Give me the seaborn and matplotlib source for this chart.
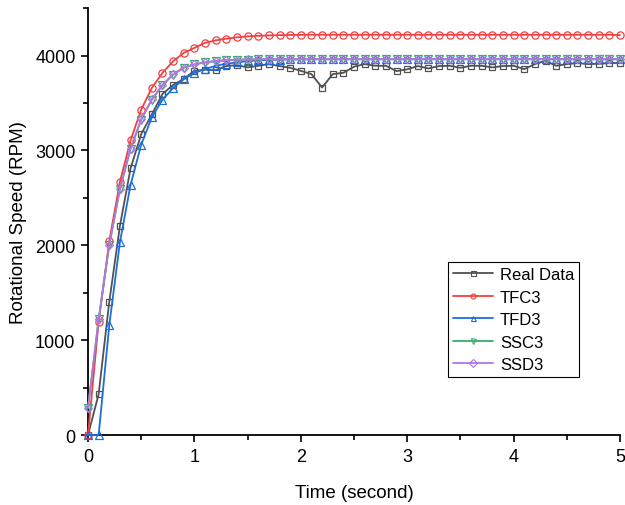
import numpy as np
import matplotlib
matplotlib.use("Agg")
import matplotlib.pyplot as plt
import seaborn as sns
from matplotlib.ticker import MultipleLocator

# time grid (second), one sample every 0.1 s
time_s = np.round(np.arange(51) * 0.1, 1)

real_data = [0, 430, 1405, 2204, 2810, 3172, 3380, 3595, 3690, 3753, 3840,
             3850, 3846, 3889, 3899, 3875, 3892, 3910, 3889, 3871, 3839,
             3804, 3663, 3804, 3818, 3882, 3910, 3892, 3892, 3836, 3855,
             3889, 3864, 3889, 3892, 3871, 3892, 3892, 3875, 3889, 3892,
             3857, 3910, 3945, 3892, 3910, 3921, 3910, 3913, 3921, 3921]

tfc3 = [0, 1194, 2046, 2669, 3106, 3430, 3658, 3817, 3940, 4028, 4081,
        4134, 4160, 4178, 4192, 4202, 4208, 4212, 4215, 4217, 4218,
        4219, 4219, 4219, 4219, 4219, 4219, 4219, 4219, 4219, 4219,
        4219, 4219, 4219, 4219, 4219, 4219, 4219, 4219, 4219, 4219,
        4219, 4219, 4219, 4219, 4219, 4219, 4219, 4219, 4219, 4215]

tfd3 = [0, 0, 1158, 2032, 2637, 3060, 3349, 3535, 3658, 3751, 3818,
        3857, 3892, 3913, 3928, 3940, 3948, 3953, 3957, 3959, 3960,
        3961, 3961, 3961, 3961, 3961, 3961, 3961, 3961, 3961, 3961,
        3961, 3961, 3961, 3961, 3961, 3961, 3961, 3961, 3961, 3961,
        3961, 3961, 3961, 3961, 3961, 3961, 3961, 3961, 3961, 3961]

ssc3 = [285, 1218, 2003, 2591, 3017, 3324, 3535, 3687, 3800, 3871, 3906,
        3927, 3941, 3950, 3955, 3958, 3960, 3961, 3962, 3962, 3962,
        3962, 3962, 3962, 3962, 3962, 3962, 3962, 3962, 3962, 3962,
        3962, 3962, 3962, 3962, 3962, 3962, 3962, 3962, 3962, 3962,
        3962, 3962, 3962, 3962, 3962, 3962, 3962, 3962, 3962, 3962]

ssd3 = [285, 1220, 2006, 2594, 3020, 3327, 3538, 3690, 3803, 3873, 3908,
        3929, 3943, 3951, 3956, 3959, 3961, 3962, 3963, 3963, 3963,
        3963, 3963, 3963, 3963, 3963, 3963, 3963, 3963, 3963, 3963,
        3963, 3963, 3963, 3963, 3963, 3963, 3963, 3963, 3963, 3963,
        3963, 3963, 3963, 3963, 3963, 3963, 3963, 3963, 3963, 3963]

labels = ["Real Data", "TFC3", "TFD3", "SSC3", "SSD3"]
colors = ["#515151", "#F14040", "#1A6FDF", "#37AD6B", "#B177DE"]
markers = ["s", "o", "^", "v", "D"]
marker_sizes = [4.6, 5.2, 5.4, 5.4, 4.4]

sns.set_style("ticks")
plt.rcParams["font.family"] = ["Liberation Sans", "DejaVu Sans"]

fig = plt.figure(figsize=(6.25, 5.06), dpi=100)
ax = fig.add_axes([0.1408, 0.1383, 0.8512, 0.8437])

series = [real_data, tfc3, tfd3, ssc3, ssd3]
for vals, lab, col, mk, ms in zip(series, labels, colors, markers, marker_sizes):
    sns.lineplot(x=time_s, y=vals, ax=ax, color=col, linewidth=1.3,
                 marker=mk, markersize=ms, markerfacecolor="none",
                 markeredgecolor=col, markeredgewidth=0.9,
                 label=lab, clip_on=False, zorder=3)

ax.set_xlim(0, 5)
ax.set_ylim(0, 4500)
ax.xaxis.set_major_locator(MultipleLocator(1))
ax.xaxis.set_minor_locator(MultipleLocator(0.5))
ax.yaxis.set_major_locator(MultipleLocator(1000))
ax.yaxis.set_minor_locator(MultipleLocator(500))
ax.tick_params(which="major", length=5, width=1.2, labelsize=13,
               colors="black", labelcolor="black", pad=4)
ax.tick_params(which="minor", length=3.5, width=1.2, colors="black")
for side in ["left", "bottom"]:
    ax.spines[side].set_linewidth(1.3)
    ax.spines[side].set_color("black")
sns.despine(ax=ax)

ax.set_xlabel("Time (second)", fontsize=13.5, labelpad=14, color="black")
ax.set_ylabel("Rotational Speed (RPM)", fontsize=13.5, labelpad=6, color="black")

leg = ax.legend(loc="upper left", bbox_to_anchor=(0.677, 0.405), fontsize=12,
                frameon=True, fancybox=False, framealpha=1, edgecolor="black",
                handlelength=2.4, handletextpad=0.4, labelspacing=0.45,
                borderpad=0.3, borderaxespad=0)
leg.get_frame().set_linewidth(0.8)
for h in leg.legend_handles:
    h.set_markersize(3.6)
    h.set_markeredgewidth(0.8)
for txt in leg.get_texts():
    txt.set_color("black")

fig.savefig("out.png", dpi=100)
